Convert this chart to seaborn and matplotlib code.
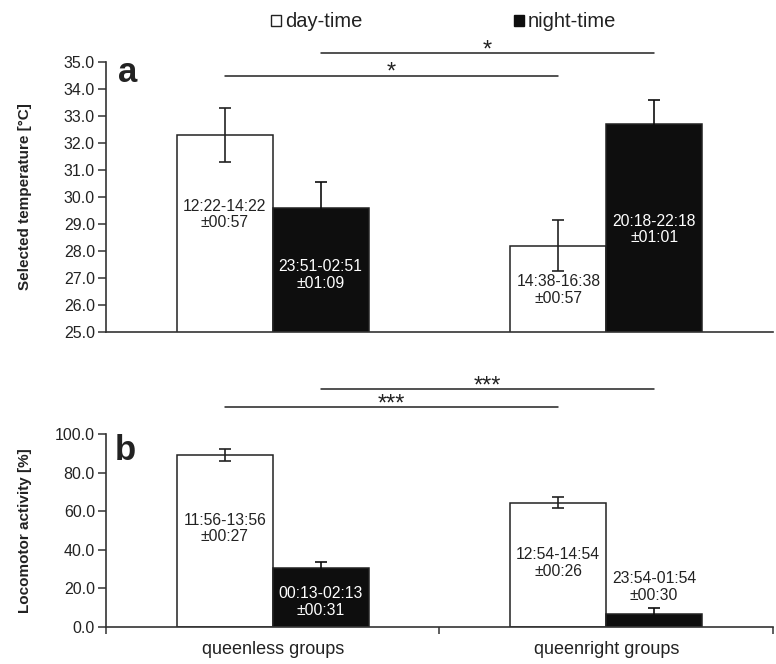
# %%
# set up
import pandas as pd
from matplotlib import pyplot as plt
from matplotlib.patches import Patch
from matplotlib.ticker import MultipleLocator, FormatStrFormatter, FixedLocator
import seaborn as sns

sns.set_style('white')
plt.rcParams['font.family'] = ['Liberation Sans', 'DejaVu Sans']

# %%
# data
groups = ['queenless groups', 'queenright groups']
periods = ['day-time', 'night-time']

# a) selected temperature [°C]
temp_day = [32.3, 28.2]
temp_day_err = [1.0, 0.95]
temp_night = [29.6, 32.7]
temp_night_err = [0.95, 0.9]
temp_day_lbl = ['12:22-14:22\n±00:57', '14:38-16:38\n±00:57']
temp_night_lbl = ['23:51-02:51\n±01:09', '20:18-22:18\n±01:01']

# b) locomotor activity [%]
act_day = [89.0, 64.5]
act_day_err = [3.0, 3.0]
act_night = [30.5, 6.5]
act_night_err = [3.0, 3.2]
act_day_lbl = ['11:56-13:56\n±00:27', '12:54-14:54\n±00:26']
act_night_lbl = ['00:13-02:13\n±00:31', '23:54-01:54\n±00:30']

sig_temp = '*'
sig_act = '***'

INK = '#222222'
BLACK = '#0e0e0e'


def make_df(day, day_err, night, night_err, day_lbl, night_lbl):
    return pd.DataFrame({
        'group': groups * 2,
        'period': [periods[0]] * 2 + [periods[1]] * 2,
        'value': day + night,
        'err': day_err + night_err,
        'label': day_lbl + night_lbl,
    })


temp = make_df(temp_day, temp_day_err, temp_night, temp_night_err, temp_day_lbl, temp_night_lbl)
act = make_df(act_day, act_day_err, act_night, act_night_err, act_day_lbl, act_night_lbl)


# %%
def draw_panel(ax, df, label_y, label_col, sig_y, sig_txt):
    sns.barplot(data=df, x='group', y='value', hue='period', order=groups,
                hue_order=periods, palette=['white', BLACK], saturation=1,
                edgecolor=INK, linewidth=1.1, width=0.575, errorbar=None,
                legend=False, ax=ax)
    centers = []
    for cont, period, ly, lc in zip(ax.containers, periods, label_y, label_col):
        sub = df[df['period'] == period].set_index('group').loc[groups]
        xs = [b.get_x() + b.get_width() / 2 for b in cont]
        hs = [b.get_height() for b in cont]
        centers.append(xs)
        ecol = INK if period == periods[0] else BLACK
        ax.errorbar(xs, hs, yerr=sub['err'].values, fmt='none', ecolor=ecol,
                    elinewidth=1.2, capsize=4.5, capthick=1.2, zorder=3)
        for x, y, t, c in zip(xs, ly, sub['label'], lc):
            ax.text(x, y, t, ha='center', va='center', color=c, fontsize=11.3,
                    linespacing=1.15)
    # significance lines: day vs day, night vs night
    for xs, y in zip(centers, sig_y):
        ax.plot(xs, [y, y], color=INK, lw=1.1, clip_on=False)
        ax.annotate(sig_txt, ((xs[0] + xs[1]) / 2, y), xytext=(0, -2.5),
                    textcoords='offset points', ha='center', va='baseline',
                    fontsize=17, color=INK, annotation_clip=False)
    ax.set_xlim(-0.5, 1.5)
    ax.set_xlabel('')
    sns.despine(ax=ax)
    for s in ['left', 'bottom']:
        ax.spines[s].set_color('#333333')
        ax.spines[s].set_linewidth(1.2)
    ax.tick_params(axis='y', direction='out', length=6, width=1.1, color='#333333',
                   labelsize=11.5, labelcolor=INK, left=True, pad=2)
    ax.yaxis.set_major_formatter(FormatStrFormatter('%.1f'))
    ax.yaxis.set_label_coords(-0.111, 0.5)


fig = plt.figure(figsize=(7.76, 6.64), dpi=100)
ax_a = fig.add_axes([0.1366, 0.5, 0.8595, 0.4066])
ax_b = fig.add_axes([0.1366, 0.0557, 0.8595, 0.2907])

draw_panel(ax_a, temp, label_y=[[29.35, 26.55], [27.1, 28.8]],
           label_col=[[INK, INK], ['white', 'white']], sig_y=[34.5, 35.33],
           sig_txt=sig_temp)
ax_a.set_ylim(25, 35)
ax_a.yaxis.set_major_locator(MultipleLocator(1))
ax_a.set_xticks([])
ax_a.set_ylabel('Selected temperature [°C]', fontsize=11, fontweight='bold', color=INK)
ax_a.text(0.018, 0.926, 'a', transform=ax_a.transAxes, fontsize=25,
          fontweight='bold', color=INK, va='baseline')

draw_panel(ax_b, act, label_y=[[51, 33], [13, 20.7]],
           label_col=[[INK, INK], ['white', INK]], sig_y=[114, 123.3],
           sig_txt=sig_act)
ax_b.set_ylim(0, 100)
ax_b.yaxis.set_major_locator(MultipleLocator(20))
ax_b.xaxis.set_minor_locator(FixedLocator([-0.5, 0.5, 1.5]))
ax_b.tick_params(axis='x', which='major', length=0, pad=10, labelsize=13, labelcolor=INK)
ax_b.tick_params(axis='x', which='minor', direction='out', length=5, width=1.1,
                 color='#333333', bottom=True)
ax_b.set_ylabel('Locomotor activity [%]', fontsize=11, fontweight='bold', color=INK)
ax_b.text(0.013, 0.865, 'b', transform=ax_b.transAxes, fontsize=25,
          fontweight='bold', color=INK, va='baseline')

handles = [Patch(facecolor='white', edgecolor=INK, linewidth=1),
           Patch(facecolor=BLACK, edgecolor=BLACK, linewidth=1)]
fig.legend(handles=handles, labels=periods, ncol=2, loc='center',
           bbox_to_anchor=(0.572, 0.967), frameon=False, fontsize=14.5,
           handlelength=0.5, handleheight=0.5, handletextpad=0.2,
           columnspacing=7.5, labelcolor=INK)

fig.savefig('out.png', dpi=100)
